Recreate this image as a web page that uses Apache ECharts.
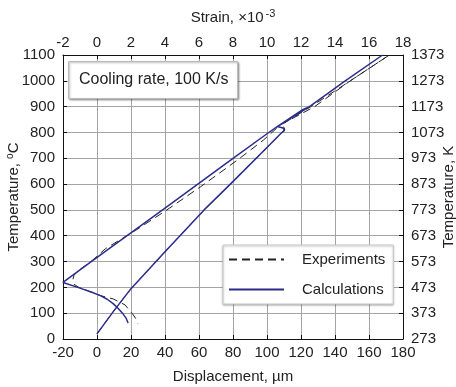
<!DOCTYPE html>
<html>
<head>
<meta charset="utf-8">
<script src="https://cdn.jsdelivr.net/npm/echarts@6/dist/echarts.min.js"></script>
<style>
html, body { margin: 0; padding: 0; background: #fff; }
#main { width: 456px; height: 387px; }
</style>
</head>
<body>
<div id="main"></div>
<script>
// 计算曲线 (displacement um, temperature C)
var calcHeating = [[0, 20], [10, 110], [20, 195], [40, 338], [63, 500], [78, 597], [100, 742], [108, 795],
	[110.3, 808], [109.5, 817], [106, 823], [121, 888], [125, 900], [146, 1000], [168, 1100]];
var calcCooling = [[168, 1100], [146, 1000], [125, 900], [106, 823], [100, 795], [80, 700], [39, 502],
	[-4, 297], [-20, 219], [-10, 197], [-3, 181], [2, 168], [6, 154], [9.5, 137], [12.5, 118], [15, 100],
	[17, 82], [18.3, 62]];
// 实验曲线
var expHeating = [[0, 20], [10, 110], [20, 195], [40, 338], [63, 500], [78, 597], [100, 742], [108, 795],
	[110.5, 812], [109, 832], [127, 905], [149, 1000], [172, 1100]];
var expCooling = [[172, 1100], [149, 1000], [128, 900], [108, 830], [98, 771], [83, 695], [61, 590], [40, 495],
	[22.5, 420], [5, 350], [-3.5, 300], [-11, 265], [-13.5, 247], [-14.3, 228], [-13.5, 212], [-11, 201],
	[2, 168], [9.6, 155], [16.5, 132], [21.4, 93], [23.5, 72], [24, 60]];
var legendNames = ['Experiments', 'Calculations'];

var myChart = echarts.init(document.getElementById('main'));
var font = 'Liberation Sans, Arial, sans-serif';
var axisLine = { show: true, onZero: false, lineStyle: { color: '#111', width: 1 } };
var axisTick = { show: true, inside: true, length: 4, lineStyle: { color: '#111' } };
var labelStyle = { fontSize: 15, color: '#222', fontFamily: font };
var plain = function(v) { return String(v); };

var option = {
	animation : false,
	textStyle : { fontFamily : font },
	title : {
		text : 'Cooling rate, 100 K/s',
		left : 68,
		top : 61,
		padding : [ 11, 9, 11, 11 ],
		backgroundColor : '#fff',
		borderColor : '#bbb',
		borderWidth : 1,
		shadowBlur : 2,
		shadowColor : 'rgba(0,0,0,0.35)',
		shadowOffsetX : 1,
		shadowOffsetY : 1,
		textStyle : { fontSize : 16, fontWeight : 'normal', color : '#222', fontFamily : font }
	},
	legend : {
		data : legendNames,
		orient : 'vertical',
		left : 223,
		top : 245,
		itemWidth : 55,
		itemHeight : 14,
		itemGap : 15,
		padding : [ 7, 8, 7, 5 ],
		backgroundColor : '#fff',
		borderColor : '#ccc',
		borderWidth : 1,
		shadowBlur : 2,
		shadowColor : 'rgba(0,0,0,0.3)',
		shadowOffsetY : 1,
		itemStyle : { opacity : 0 },
		textStyle : { fontSize : 15, color : '#222', fontFamily : font, padding : [ 0, 0, 0, 13 ] }
	},
	grid : { left : 63, right : 53, top : 55, bottom : 48, containLabel : false, outerBoundsMode : 'none' },
	xAxis : [ {
		type : 'value',
		position : 'bottom',
		min : -20,
		max : 180,
		interval : 20,
		name : 'Displacement, \u00b5m',
		nameLocation : 'middle',
		nameMoveOverlap : false,
		nameGap : 30,
		nameTextStyle : labelStyle,
		axisLine : axisLine,
		axisTick : axisTick,
		axisLabel : { margin : 6, fontSize : 15, color : '#222', formatter : plain },
		splitLine : { show : true, lineStyle : { color : '#a4a4a4', width : 1 } }
	}, {
		type : 'value',
		position : 'top',
		min : -2,
		max : 18,
		interval : 2,
		name : 'Strain, \u00d710{sup|-3}',
		nameLocation : 'middle',
		nameMoveOverlap : false,
		nameGap : 28,
		nameTextStyle : {
			fontSize : 15, color : '#222',
			rich : { sup : { fontSize : 11, color : '#222', verticalAlign : 'bottom', padding : [ 0, 0, 8, 2 ] } }
		},
		axisLine : axisLine,
		axisTick : axisTick,
		axisLabel : { margin : 5, fontSize : 15, color : '#222', formatter : plain },
		splitLine : { show : false }
	} ],
	yAxis : [ {
		type : 'value',
		position : 'left',
		min : 0,
		max : 1100,
		interval : 100,
		name : 'Temperature, {sup|o}C',
		nameLocation : 'middle',
		nameMoveOverlap : false,
		nameRotate : 90,
		nameGap : 40,
		nameTextStyle : {
			fontSize : 15, color : '#222',
			rich : { sup : { fontSize : 10, color : '#222', verticalAlign : 'bottom', padding : [ 0, 0, 8, 0 ] } }
		},
		axisLine : axisLine,
		axisTick : axisTick,
		axisLabel : { margin : 8, fontSize : 15, color : '#222', formatter : plain },
		splitLine : { show : true, lineStyle : { color : '#a4a4a4', width : 1 } }
	}, {
		type : 'value',
		position : 'right',
		min : 0,
		max : 1100,
		interval : 100,
		name : 'Temperature, K',
		nameLocation : 'middle',
		nameMoveOverlap : false,
		nameRotate : 90,
		nameGap : 38,
		nameTextStyle : labelStyle,
		axisLine : axisLine,
		axisTick : axisTick,
		axisLabel : {
			margin : 8, fontSize : 15, color : '#222',
			formatter : function(v) { return String(v + 273); }
		},
		splitLine : { show : false }
	} ],
	series : [ {
		name : 'Experiments',
		type : 'line',
		xAxisIndex : 0,
		yAxisIndex : 0,
		symbol : 'none',
		data : expHeating.concat(expCooling),
		lineStyle : { color : '#222', width : 1, type : [ 8, 5 ] },
		itemStyle : { color : '#222' }
	}, {
		name : 'Calculations',
		type : 'line',
		xAxisIndex : 0,
		yAxisIndex : 0,
		symbol : 'none',
		data : calcHeating.concat(calcCooling),
		lineStyle : { color : '#2b2d8c', width : 1.5 },
		itemStyle : { color : '#2b2d8c' }
	} ]
};

myChart.setOption(option);
</script>
</body>
</html>
